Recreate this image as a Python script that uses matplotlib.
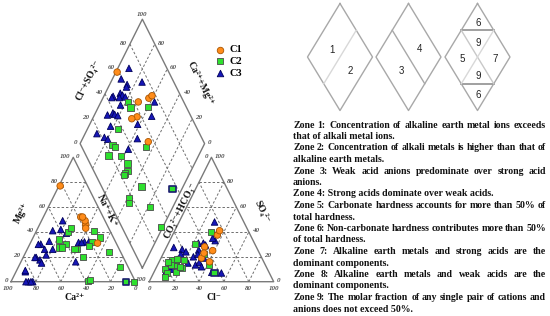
import numpy as np
import matplotlib.pyplot as plt

# ion shares in % of total cations / anions (meq)
# C1 samples
c1_ca = [22, 18, 17, 18.5, 16, 16.5, 15]
c1_mg = [77, 52, 46, 43, 49, 52, 31]
c1_cl = [30.5, 38.5, 36, 36, 40.5, 32.5, 32.5]
c1_so4 = [28, 25, 37.5, 41, 16, 19, 23]

# C2 samples
c2_ca = [44.5, 34, 34, 48, 30.5, 41, 10.5, 45, 36, 13, 19, 32, 23, 9.5, 7.5, 38, 35.5, 7, 1.5]
c2_mg = [34, 40, 26, 27.5, 43, 30, 35.5, 27.5, 26, 41, 32, 20, 29, 24, 0, 0.5, 1.5, 11.5, 0]
c2_cl = [33, 41.5, 29.5, 19, 17.5, 13, 21.5, 8, 14.5, 12.5, 9.5, 10.5, 7, 21, 49, 10.5, 11, 18.5, 13.5]
c2_so4 = [22, 13.5, 40, 17.5, 8, 13.5, 30, 10, 13.5, 17.5, 17.5, 13.5, 16, 11, 7, 7, 4, 12, 18]

# C3 samples
c3_ca = [61, 63, 86, 68, 36, 84.5, 84, 88, 53, 46, 82.5, 25, 34, 70, 60, 84, 39, 21.5, 61, 30, 71, 68, 53.5, 40, 27.5]
c3_mg = [30, 30, 0, 17.5, 39, 8, 9, 0, 32.5, 41, 0, 32, 49, 19.5, 26, 0, 42, 32, 21.5, 31.5, 19.5, 15, 26, 16, 31.5]
c3_cl = [36.5, 28, 54.5, 30.5, 35, 25.5, 30.5, 27, 34.5, 28, 24, 28.5, 32.5, 6, 23.5, 13.5, 17.5, 33.5, 13.5, 46.5, 9.5, 10, 14, 36, 14.5]
c3_so4 = [33, 31, 7, 29.5, 39.5, 20, 13.5, 25.5, 19, 22, 31, 48, 15.5, 27.5, 15, 26, 24, 35, 18, 7.5, 8, 12, 10, 12, 22]

zone_lines = [
    ("Zone 1: Concentration of alkaline earth metal ions exceeds", True),
    ("that of alkali metal ions.", False),
    ("Zone 2: Concentration of alkali metals is higher than that of", True),
    ("alkaline earth metals.", False),
    ("Zone 3: Weak acid anions predominate over strong acid", True),
    ("anions.", False),
    ("Zone 4: Strong acids dominate over weak acids.", False),
    ("Zone 5: Carbonate hardness accounts for more than 50% of", True),
    ("total hardness.", False),
    ("Zone 6: Non-carbonate hardness contributes more than 50%", True),
    ("of total hardness.", False),
    ("Zone 7: Alkaline earth metals and strong acids are the", True),
    ("dominant components.", False),
    ("Zone 8: Alkaline earth metals and weak acids are the", True),
    ("dominant components.", False),
    ("Zone 9: The molar fraction of any single pair of cations and", True),
    ("anions does not exceed 50%.", False),
]

plt.rcParams['font.family'] = ['Liberation Serif', 'DejaVu Serif']

fig = plt.figure(figsize=(5.5, 3.16), dpi=100)

# piper axes in diagram units (triangle side = 100)
SX, SY, X0, Y0 = 1.245, 1.4365, 11, 281.7
ax = fig.add_axes([0, 0, 1, 1])
ax.set_xlim(-X0 / SX, (550 - X0) / SX)
ax.set_ylim((Y0 - 316) / SY, Y0 / SY)
ax.axis('off')

# overlay in pixel coords for titles and the zone sketch
px = fig.add_axes([0, 0, 1, 1], facecolor='none')
px.set_xlim(0, 550)
px.set_ylim(316, 0)
px.axis('off')

GAP = 11
H3 = np.sqrt(3) / 2
OX = 100 + GAP


def cat(ca, mg):
    ca, mg = np.asarray(ca, float), np.asarray(mg, float)
    return 100 - ca - 0.5 * mg, H3 * mg


def ani(cl, so4):
    cl, so4 = np.asarray(cl, float), np.asarray(so4, float)
    return OX + cl + 0.5 * so4, H3 * so4


def dia(na, s):
    na, s = np.asarray(na, float), np.asarray(s, float)
    return 50 + GAP / 2 + 0.5 * (s + na), H3 * (GAP + s + 100 - na)


def seg(p, q, **kw):
    ax.plot([p[0], q[0]], [p[1], q[1]], **kw)


dash = dict(color='#6e6e6e', lw=0.7, ls=(0, (2.5, 2)))
edge = dict(color='#7a7a7a', lw=1.0)

# outlines
for f, pts in [(cat, [(100, 0), (0, 0), (0, 100)]),
               (ani, [(0, 0), (100, 0), (0, 100)]),
               (dia, [(100, 0), (0, 0), (0, 100), (100, 100)])]:
    xy = [f(*p) for p in pts] + [f(*pts[0])]
    ax.plot([p[0] for p in xy], [p[1] for p in xy], **edge)

# dashed grid
for k in range(20, 100, 20):
    seg(cat(100 - k, k), cat(0, k), **dash)
    seg(cat(k, 0), cat(k, 100 - k), **dash)
    seg(cat(100 - k, 0), cat(0, 100 - k), **dash)
    seg(ani(0, k), ani(100 - k, k), **dash)
    seg(ani(k, 0), ani(k, 100 - k), **dash)
    seg(ani(100 - k, 0), ani(0, 100 - k), **dash)
    seg(dia(k, 0), dia(k, 100), **dash)
    seg(dia(0, k), dia(100, k), **dash)

# tick labels
tk = dict(fontsize=5, fontstyle='italic', fontweight='bold', color='#555555',
          textcoords='offset pixels')


def tick(xy, s, dx, dy, ha='center', va='center'):
    ax.annotate(s, (float(xy[0]), float(xy[1])), xytext=(dx, dy), ha=ha, va=va, **tk)


for k in range(0, 101, 20):
    tick(cat(k, 0), str(k), -3 if k == 100 else 0, -7)
    tick(cat(100 - k, k), str(k), -3, 1, ha='right')
    tick(ani(k, 0), str(k), 0, -7)
    tick(ani(100 - k, k), str(k), 3, 1, ha='left')
    if k < 100:
        tick(dia(0, k), str(k), -3, 1, ha='right')
        tick(dia(100 - k, 100), str(k), 3, 1, ha='left')
tick(dia(0, 100), '100', 0, 5)
tick(cat(0, 100), '0', 3, 1, ha='left')
tick(ani(0, 0), '100', -3, 2, ha='right')
tick(ani(0, 100), '0', -3, 1, ha='right')

# samples
groups = [
    ('C3', c3_ca, c3_mg, c3_cl, c3_so4, '^', '#1616b8', '#00005a', 22),
    ('C2', c2_ca, c2_mg, c2_cl, c2_so4, 's', '#2ee02e', '#4a4a4a', 20),
    ('C1', c1_ca, c1_mg, c1_cl, c1_so4, 'o', '#ff8c1a', '#a85400', 22),
]
handles = {}
for name, ca, mg, cl, so4, mk, fc, ec, sz in groups:
    ca, mg, cl, so4 = map(np.asarray, (ca, mg, cl, so4))
    na = 100 - ca - mg
    s = cl + so4
    ecs = [ec] * len(ca)
    lws = [0.6] * len(ca)
    if name == 'C2':
        ecs[14] = '#1a1a70'
        lws[14] = 1.2
    for f, a, b in [(cat, ca, mg), (ani, cl, so4), (dia, na, s)]:
        x, y = f(a, b)
        ax.scatter(x, y, s=sz, marker=mk, c=fc, edgecolors=ecs, linewidths=lws, zorder=3)
    handles[name] = ax.scatter([], [], s=sz, marker=mk, c=fc, edgecolors=ec, linewidths=0.6)

ax.legend([handles[n] for n in ['C1', 'C2', 'C3']], ['C1', 'C2', 'C3'],
          loc='upper left', bbox_to_anchor=(214 / 550, 1 - 45 / 316),
          frameon=False, prop=dict(weight='bold', size=7.5), scatterpoints=1,
          handletextpad=0.3, labelspacing=0.25, borderpad=0, borderaxespad=0,
          handlelength=1.2)

# axis titles
lab = dict(fontsize=7, fontweight='bold', ha='center', va='center', color='#111111')
px.text(22, 213, 'Mg²⁺', rotation=63.4, **lab)
px.text(75, 297, 'Ca²⁺', **lab)
px.text(107, 211, 'Na⁺+K⁺', rotation=-63.4, **lab)
px.text(180, 210, 'CO₃²⁻+HCO₃⁻', rotation=63.4, **lab)
px.text(262, 212, 'SO₄²⁻', rotation=-63.4, **lab)
px.text(214, 298, 'Cl⁻', **lab)
px.text(88, 80, 'Cl⁻+SO₄²⁻', rotation=63.4, **lab)
px.text(200, 83, 'Ca²⁺+Mg²⁺', rotation=-63.4, **lab)

# zone sketch (three diamonds)
HW, HH, CY = 32.5, 53.5, 57


def diamond(cx, col='#a8a8a8'):
    px.plot([cx, cx + HW, cx, cx - HW, cx], [CY - HH, CY, CY + HH, CY, CY - HH],
            color=col, lw=1.0)
    ul = (cx - HW / 2, CY - HH / 2)
    ur = (cx + HW / 2, CY - HH / 2)
    ll = (cx - HW / 2, CY + HH / 2)
    lr = (cx + HW / 2, CY + HH / 2)
    return ul, ur, ll, lr


def line(p, q, col, lw=1.0):
    px.plot([p[0], q[0]], [p[1], q[1]], color=col, lw=lw)


znum = dict(fontsize=7, family=['Liberation Sans', 'DejaVu Sans'], ha='center', va='center', color='#222222')

c1x, c2x, c3x = 340, 408.5, 477.5
ul, ur, ll, lr = diamond(c1x)
line(ll, ur, '#d8d8d8')
px.text(c1x - 7.5, CY - 7, '1', **znum)
px.text(c1x + 10.5, CY + 14.5, '2', **znum)

ul, ur, ll, lr = diamond(c2x)
line(ul, lr, '#a8a8a8')
px.text(c2x + 11, CY - 7.5, '4', **znum)
px.text(c2x - 7, CY + 14.5, '3', **znum)

ul, ur, ll, lr = diamond(c3x)
line(ul, ur, '#999999', 1.3)
line(ll, lr, '#999999', 1.3)
line(ul, lr, '#c8c8c8')
line(ur, ll, '#d8d8d8')
for dx, dy, t in [(0.5, -34.5, '6'), (1, -14, '9'), (-15, 2, '5'), (18, 2, '7'),
                  (1, 19, '9'), (1, 38, '6')]:
    px.text(c3x + dx, CY + dy, t, **znum)

# zone descriptions, justified
tx = dict(fontsize=7.1, fontweight='bold', va='center', ha='left', color='#111111')
XL, XR, YT, DY = 293, 546, 125, 11.5
fig.canvas.draw()
rend = fig.canvas.get_renderer()
for i, (txt, just) in enumerate(zone_lines):
    y = YT + i * DY
    if not just:
        px.text(XL, y, txt, **tx)
        continue
    words = txt.split()
    arts = [px.text(0, y, w, **tx) for w in words]
    widths = [a.get_window_extent(rend).width for a in arts]
    gap = (XR - XL - sum(widths)) / (len(words) - 1)
    x = XL
    for a, wd in zip(arts, widths):
        a.set_x(x)
        x += wd + gap

fig.savefig('out.png', dpi=100)
